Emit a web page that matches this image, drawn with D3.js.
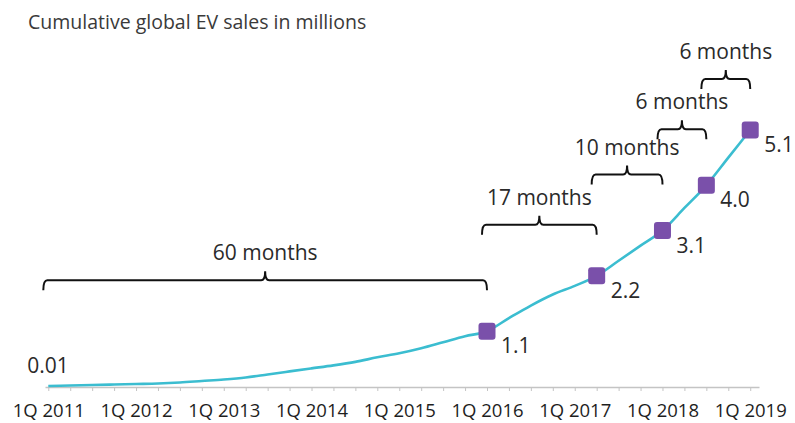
<!DOCTYPE html>
<meta charset="utf-8">
<style>
    body {
        margin: 0;
        background: #fff;
    }

    text {
        font-family: "Open Sans", sans-serif;
    }

    .axis path,
    .axis line {
        stroke: #c4c4c4;
    }

    .axis text {
        font-size: 18.5px;
        fill: #1e1e1e;
    }
</style>

<svg width="795" height="423"></svg>

<script src="https://d3js.org/d3.v7.min.js"></script>

<script>
    // cumulative EV sales (millions), one value per quarter from 1Q 2011 to 1Q 2019
    var sales = [0.01, 0.02, 0.03, 0.04, 0.05, 0.06, 0.08, 0.11, 0.14, 0.18,
        0.24, 0.30, 0.36, 0.42, 0.49, 0.58, 0.66, 0.76, 0.88, 1.0,
        1.1, 1.36, 1.61, 1.83, 2.0, 2.2, 2.5, 2.8, 3.1, 3.55,
        4.0, 4.55, 5.1];

    var years = [2011, 2012, 2013, 2014, 2015, 2016, 2017, 2018, 2019];

    // quarters where a milestone is marked
    var milestones = [20, 25, 28, 30, 32];

    var bracketLabels = ["60 months", "17 months", "10 months", "6 months", "6 months"];
    var bracketFrom = [0, 20, 25, 28, 30];
    var bracketTo = [20, 25, 28, 30, 32];

    var svg = d3.select("svg");

    var x = d3.scaleLinear().domain([-0.15, 32.4]).range([45, 759]);
    var y = d3.scaleLinear().domain([0, 5.1]).range([386.5, 130]);

    svg.append("text")
            .attr("x", 28)
            .attr("y", 29)
            .attr("font-size", "19.5px")
            .attr("fill", "#3a3a3a")
            .text("Cumulative global EV sales in millions");

    var axis = svg.append("g")
            .attr("class", "axis")
            .attr("transform", "translate(0,387)")
            .call(d3.axisBottom(x)
                    .tickValues(d3.range(0, 33))
                    .tickSize(4)
                    .tickSizeOuter(0)
                    .tickPadding(13)
                    .tickFormat(function (d) {
                        return d % 4 === 0 ? "1Q " + years[d / 4] : "";
                    }));
    axis.select(".domain").attr("stroke-width", 1.5);

    var line = d3.line()
            .x(function (d, i) {
                return x(i);
            })
            .y(function (d) {
                return y(d);
            })
            .curve(d3.curveMonotoneX);

    svg.append("path")
            .datum(sales)
            .attr("fill", "none")
            .attr("stroke", "#3bbdd0")
            .attr("stroke-width", 2.6)
            .attr("d", line);

    svg.selectAll(".marker")
            .data(milestones)
            .enter().append("rect")
            .attr("class", "marker")
            .attr("x", function (d) {
                return x(d) - 8.5;
            })
            .attr("y", function (d) {
                return y(sales[d]) - 8.5;
            })
            .attr("width", 17)
            .attr("height", 17)
            .attr("rx", 3)
            .attr("fill", "#7a50aa");

    svg.selectAll(".value")
            .data(milestones)
            .enter().append("text")
            .attr("class", "value")
            .attr("x", function (d) {
                return x(d) + 14;
            })
            .attr("y", function (d) {
                return y(sales[d]) + 22;
            })
            .attr("font-size", "21px")
            .attr("fill", "#2a2a2a")
            .text(function (d) {
                return sales[d].toFixed(1);
            });

    svg.append("text")
            .attr("x", x(0) - 21)
            .attr("y", y(sales[0]) - 13)
            .attr("font-size", "21px")
            .attr("fill", "#2a2a2a")
            .text(sales[0]);

    /* curly brackets between milestones */
    var brackets = svg.append("g")
            .selectAll("g")
            .data(bracketLabels)
            .enter().append("g");

    function bracketY(i) {
        return y(sales[bracketTo[i]]) - 51 - (i === 2 || i === 3 ? 5 : 0);
    }

    brackets.append("path")
            .attr("fill", "none")
            .attr("stroke", "#111")
            .attr("stroke-width", 2)
            .attr("d", function (d, i) {
                var x1 = x(bracketFrom[i]) - 5,
                    x2 = x(bracketTo[i]),
                    xm = (x1 + x2) / 2,
                    by = bracketY(i);
                return "M" + x1 + "," + (by + 10) +
                        "Q" + x1 + "," + by + " " + (x1 + 4) + "," + by +
                        "L" + (xm - 4) + "," + by +
                        "Q" + xm + "," + by + " " + xm + "," + (by - 9) +
                        "Q" + xm + "," + by + " " + (xm + 4) + "," + by +
                        "L" + (x2 - 4) + "," + by +
                        "Q" + x2 + "," + by + " " + x2 + "," + (by + 10);
            });

    brackets.append("text")
            .attr("x", function (d, i) {
                return (x(bracketFrom[i]) - 5 + x(bracketTo[i])) / 2;
            })
            .attr("y", function (d, i) {
                return bracketY(i) - 20;
            })
            .attr("text-anchor", "middle")
            .attr("font-size", "21px")
            .attr("fill", "#2a2a2a")
            .text(function (d) {
                return d;
            });
</script>
